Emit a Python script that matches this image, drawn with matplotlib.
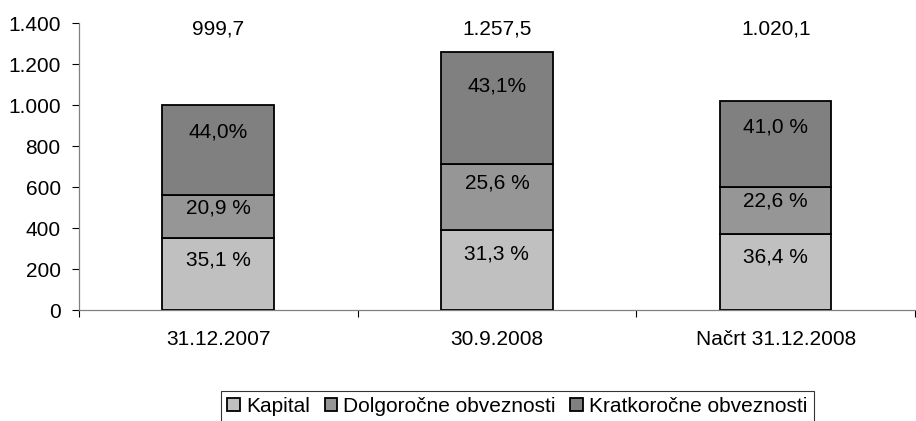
import numpy as np
import matplotlib
matplotlib.use("Agg")
import matplotlib.pyplot as plt
from matplotlib.ticker import FixedLocator, FuncFormatter

plt.rcParams["font.family"] = ["Liberation Sans", "DejaVu Sans"]

categories = ["31.12.2007", "30.9.2008", "Načrt 31.12.2008"]
totals = [999.7, 1257.5, 1020.1]
total_labels = ["999,7", "1.257,5", "1.020,1"]
series = ["Kapital", "Dolgoročne obveznosti", "Kratkoročne obveznosti"]
shares = {
    "Kapital": [35.1, 31.3, 36.4],
    "Dolgoročne obveznosti": [20.9, 25.6, 22.6],
    "Kratkoročne obveznosti": [44.0, 43.1, 41.0],
}
share_labels = {
    "Kapital": ["35,1 %", "31,3 %", "36,4 %"],
    "Dolgoročne obveznosti": ["20,9 %", "25,6 %", "22,6 %"],
    "Kratkoročne obveznosti": ["44,0%", "43,1%", "41,0 %"],
}
colors = ["#C0C0C0", "#969696", "#808080"]
FS = 15

fig = plt.figure(figsize=(9.16, 4.21), dpi=100)
ax = fig.add_axes([0.086, 0.263, 0.913, 0.682])

x = np.arange(len(categories))
totals_arr = np.array(totals)
bottom = np.zeros(len(categories))
for name, col in zip(series, colors):
    h = totals_arr * np.array(shares[name]) / 100.0
    ax.bar(x, h, bottom=bottom, width=0.4, color=col, edgecolor="black",
           linewidth=1.3, label=name, zorder=3)
    for xi, b, hi, lab in zip(x, bottom, h, share_labels[name]):
        ax.text(xi, b + hi * 0.7, lab, ha="center", va="center", fontsize=FS)
    bottom = bottom + h

for xi, lab in zip(x, total_labels):
    ax.text(xi, 1370, lab, ha="center", va="center", fontsize=FS)

ax.set_xlim(-0.5, len(categories) - 0.5)
ax.set_ylim(0, 1400)
ax.yaxis.set_major_locator(FixedLocator(np.arange(0, 1401, 200)))
ax.yaxis.set_major_formatter(FuncFormatter(lambda v, p: f"{int(v):,}".replace(",", ".")))
ax.set_xticks(x)
ax.set_xticklabels(categories, fontsize=FS)
ax.xaxis.set_minor_locator(FixedLocator(np.arange(-0.5, len(categories), 1.0)))
ax.tick_params(axis="x", which="major", length=0, pad=14)
ax.tick_params(axis="x", which="minor", length=5, width=0.8, direction="out")
ax.tick_params(axis="y", length=5, width=0.8, direction="out", labelsize=FS, pad=8)

for s in ["top", "right"]:
    ax.spines[s].set_visible(False)
ax.spines["left"].set_color("#808080")
ax.spines["bottom"].set_color("#808080")
ax.spines["left"].set_linewidth(0.9)
ax.spines["bottom"].set_linewidth(0.9)

leg = fig.legend(loc="center", bbox_to_anchor=(0.565, 0.035), ncol=3, fontsize=FS,
                 frameon=True, fancybox=False, edgecolor="black", handlelength=0.6,
                 handleheight=0.6, handletextpad=0.3, columnspacing=0.7,
                 borderpad=0.3)
leg.get_frame().set_linewidth(0.8)

fig.savefig("out.png", dpi=100)
